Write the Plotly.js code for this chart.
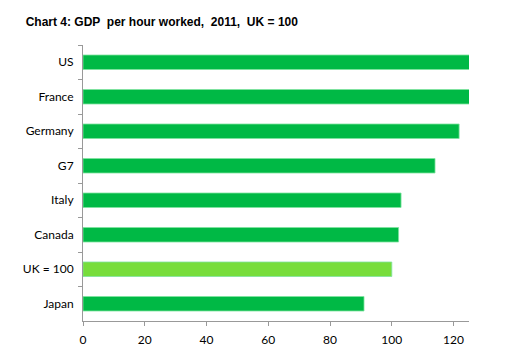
<!DOCTYPE html>
<html>
<head>
<meta charset="utf-8">
<script src="https://cdn.plot.ly/plotly-3.0.1.min.js"></script>
<style>html,body{margin:0;padding:0;background:#fff;}#chart{width:514px;height:356px;}</style>
</head>
<body>
<div id="chart"></div>
<script>
const countries = ["US", "France", "Germany", "G7", "Italy", "Canada", "UK = 100", "Japan"];
const values = [125.5, 125.5, 121.8, 114, 103, 102.2, 100, 91];
const barColors = ["#00B945", "#00B945", "#00B945", "#00B945", "#00B945", "#00B945", "#77DD3B", "#00B945"];
const xTicks = [0, 20, 40, 60, 80, 100, 120];

const trace = {
  type: "bar",
  orientation: "h",
  y: countries,
  x: values,
  width: 0.42,
  cliponaxis: false,
  marker: {color: barColors, line: {color: "#7FE39F", width: 0.8}},
  hoverinfo: "none"
};

const layout = {
  width: 514, height: 356,
  margin: {l: 83, r: 45, t: 45, b: 35},
  paper_bgcolor: "#fff", plot_bgcolor: "#fff",
  showlegend: false,
  title: {text: "<b>Chart 4: GDP  per hour worked,  2011,  UK = 100</b>", x: 0.05, xanchor: "left", y: 0.94, yanchor: "middle",
          font: {family: "Liberation Sans, Arial, sans-serif", size: 12, color: "#000"}},
  xaxis: {range: [0, 125], tickvals: xTicks, ticks: "outside", ticklen: 4, tickcolor: "#999", showline: true, linecolor: "#999", linewidth: 1,
          showgrid: false, zeroline: false, fixedrange: true, ticklabelstandoff: 4,
          tickfont: {family: "Lato, Open Sans, sans-serif", size: 12, color: "#000"}},
  yaxis: {autorange: "reversed", type: "category", ticks: "outside", tickson: "boundaries", ticklen: 4, tickcolor: "#999",
          showline: true, linecolor: "#999", linewidth: 1, showgrid: false, zeroline: false, ticklabelstandoff: 6,
          tickfont: {family: "Lato, Open Sans, sans-serif", size: 12, color: "#000"}}
};

Plotly.newPlot("chart", [trace], layout, {displayModeBar: false, staticPlot: true});
</script>
</body>
</html>
